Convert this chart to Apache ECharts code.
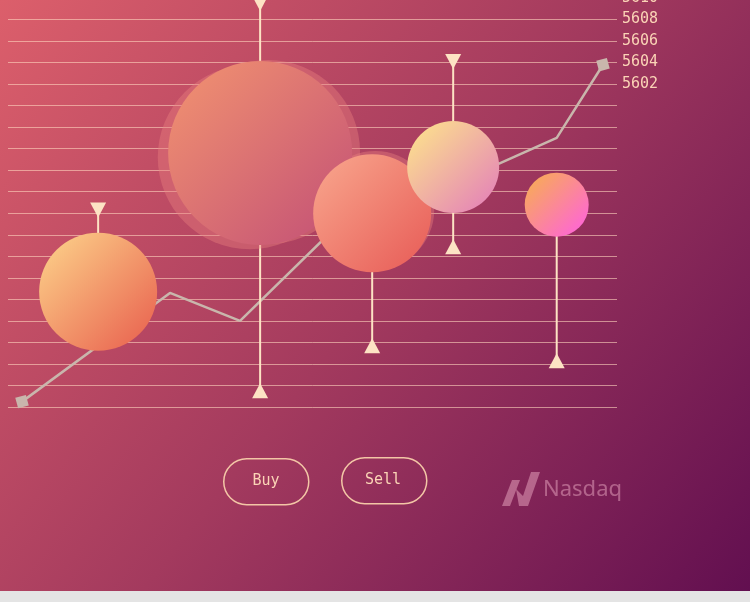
<!DOCTYPE html>
<html>
<head>
<meta charset="utf-8">
<script src="https://cdn.jsdelivr.net/npm/echarts@6/dist/echarts.min.js"></script>
<style>
body { margin: 0; background: #e4e4e4; }
#main { width: 750px; height: 591px; }
</style>
</head>
<body>
<div id="main"></div>
<script>
// 走势线（收盘价）
var lineX = [2.3, 26.6, 38.1, 59.8, 73.1, 90.1, 97.7];
var lineY = [5572.5, 5582.6, 5580.0, 5592.0, 5592.7, 5597.0, 5603.8];
// 气泡：成交时间、价格、成交量
var bubbleX = [14.8, 41.4, 59.8, 73.1, 90.1];
var bubbleY = [5582.7, 5595.6, 5590.0, 5594.3, 5590.8];
var bubbleVol = [59, 92, 59, 46, 32];
// 误差线：最低、最高
var barLow = [5586.0, 5573.5, 5577.7, 5586.9, 5576.3];
var barHigh = [5590.3, 5609.5, 5592.0, 5604.1, 5592.0];
// 气泡残影
var ghostX = [42.7, 39.7, 60.3];
var ghostY = [5595.7, 5595.2, 5590.3];
var ghostVol = [92, 92, 59];
// 坐标轴
var yMin = 5572;
var yMax = 5610;
var yStep = 2;
var labelFrom = 5602;

var bubbleColors = [
	['#fdd68c', '#e85c4c'],
	['#f39470', '#c24f76'],
	['#f9a88e', '#e75a56'],
	['#fee88a', '#e27bbb'],
	['#f7b24a', '#ff5ee4']
];

var dom = document.getElementById('main');
var myChart = echarts.init(dom);

var lineData = [];
for (var i = 0; i < lineX.length; i++) {
	var item = { value: [lineX[i], lineY[i]] };
	if (i != 0 && i != lineX.length - 1) {
		item.symbol = 'none';
	}
	lineData.push(item);
}

var bubbleData = [];
for (var i = 0; i < bubbleX.length; i++) {
	bubbleData.push({
		value: [bubbleX[i], bubbleY[i], bubbleVol[i]],
		itemStyle: {
			color: new echarts.graphic.LinearGradient(0, 0, 1, 1, [
				{ offset: 0, color: bubbleColors[i][0] },
				{ offset: 1, color: bubbleColors[i][1] }
			])
		}
	});
}

var ghostData = [];
for (var i = 0; i < ghostX.length; i++) {
	ghostData.push([ghostX[i], ghostY[i], ghostVol[i]]);
}

var barData = [];
for (var i = 0; i < bubbleX.length; i++) {
	barData.push([bubbleX[i], barLow[i], barHigh[i]]);
}

var cream = '#fde3c4';
var logoColor = 'rgba(255, 196, 214, 0.42)';
var monoFont = '"DejaVu Sans Mono", monospace';

var option = {
	backgroundColor: new echarts.graphic.LinearGradient(0, 0, 1, 1, [
		{ offset: 0, color: '#dc5f6b' },
		{ offset: 0.5, color: '#a33a5e' },
		{ offset: 1, color: '#620f50' }
	]),
	animation: false,
	grid: {
		left: 8,
		right: 133,
		top: -2,
		bottom: 184,
		containLabel: false,
		outerBoundsMode: 'none'
	},
	xAxis: {
		type: 'value',
		min: 0,
		max: 100,
		show: false
	},
	yAxis: {
		type: 'value',
		position: 'right',
		min: yMin,
		max: yMax,
		interval: yStep,
		axisLine: { show: false },
		axisTick: { show: false },
		axisLabel: {
			margin: 5,
			color: '#fbd4b6',
			fontFamily: monoFont,
			fontSize: 15,
			formatter: function (v) {
				return v >= labelFrom ? v + '' : '';
			}
		},
		splitLine: {
			lineStyle: { color: 'rgba(255, 214, 190, 0.6)', width: 1 }
		}
	},
	series: [{
		type: 'line',
		z: 1,
		data: lineData,
		symbol: 'rect',
		symbolSize: 11,
		symbolRotate: 15,
		showAllSymbol: true,
		lineStyle: { color: '#c9b6ac', width: 2.5 },
		itemStyle: { color: '#c9b6ac' }
	}, {
		type: 'custom',
		z: 2,
		data: barData,
		renderItem: function (params, api) {
			var x = api.value(0);
			var pLo = api.coord([x, api.value(1)]);
			var pHi = api.coord([x, api.value(2)]);
			var w = 8, h = 7.5;
			return {
				type: 'group',
				children: [{
					type: 'line',
					shape: { x1: pLo[0], y1: pLo[1], x2: pHi[0], y2: pHi[1] },
					style: { stroke: cream, lineWidth: 2 }
				}, {
					type: 'polygon',
					shape: { points: [[pLo[0] - w, pLo[1] + h], [pLo[0] + w, pLo[1] + h], [pLo[0], pLo[1] - h]] },
					style: { fill: cream }
				}, {
					type: 'polygon',
					shape: { points: [[pHi[0] - w, pHi[1] - h], [pHi[0] + w, pHi[1] - h], [pHi[0], pHi[1] + h]] },
					style: { fill: cream }
				}]
			};
		}
	}, {
		type: 'scatter',
		z: 3,
		data: ghostData,
		symbolSize: function (val) {
			return val[2] * 2;
		},
		itemStyle: { color: 'rgba(236, 130, 128, 0.4)', opacity: 1 }
	}, {
		type: 'scatter',
		z: 4,
		data: bubbleData,
		symbolSize: function (val) {
			return val[2] * 2;
		},
		itemStyle: { opacity: 1 }
	}],
	graphic: [{
		type: 'rect',
		left: 223,
		top: 458,
		shape: { width: 85, height: 46, r: 23 },
		style: { fill: 'transparent', stroke: '#f3c6a6', lineWidth: 1.5 }
	}, {
		type: 'text',
		x: 266,
		y: 481,
		style: {
			text: 'Buy',
			fill: '#fbd4b6',
			font: '15px ' + monoFont,
			align: 'center',
			verticalAlign: 'middle'
		}
	}, {
		type: 'rect',
		left: 341,
		top: 457,
		shape: { width: 85, height: 46, r: 23 },
		style: { fill: 'transparent', stroke: '#f3c6a6', lineWidth: 1.5 }
	}, {
		type: 'text',
		x: 383,
		y: 480,
		style: {
			text: 'Sell',
			fill: '#fbd4b6',
			font: '15px ' + monoFont,
			align: 'center',
			verticalAlign: 'middle'
		}
	}, {
		// Nasdaq logo
		type: 'polygon',
		shape: { points: [[502, 506], [510, 506], [520, 480], [512, 480]] },
		style: { fill: logoColor }
	}, {
		type: 'polygon',
		shape: { points: [[516, 489], [519, 506], [528, 506], [540, 472], [531, 472], [523, 496]] },
		style: { fill: logoColor }
	}, {
		type: 'text',
		x: 543,
		y: 490,
		style: {
			text: 'Nasdaq',
			fill: logoColor,
			font: '22px "Noto Sans", sans-serif',
			verticalAlign: 'middle'
		}
	}]
};
myChart.setOption(option);
</script>
</body>
</html>
